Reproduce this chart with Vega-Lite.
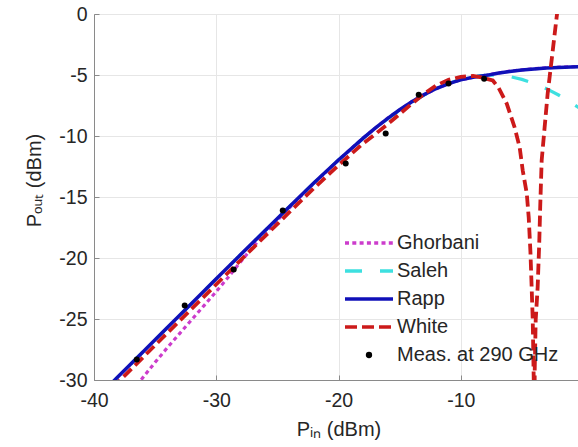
{
  "$schema": "https://vega.github.io/schema/vega-lite/v6.json",
  "autosize": {"type": "none"},
  "width": 489,
  "height": 366,
  "padding": {"left": 94, "top": 14, "right": -5, "bottom": 67},
  "background": "white",
  "config": {
    "font": "Liberation Sans",
    "view": {"stroke": "#8a8a8a", "strokeWidth": 1},
    "axis": {
      "domainColor": "#8a8a8a", "tickColor": "#8a8a8a", "gridColor": "#e6e6e6",
      "labelFont": "Liberation Sans", "labelFontSize": 19.5, "labelColor": "#262626",
      "titleFont": "Liberation Sans", "titleFontSize": 20, "titleFontWeight": "normal", "titleColor": "#262626",
      "tickSize": -5, "labelFlush": false, "labelOverlap": false
    }
  },
  "data": {"values": [
    {"s": "Ghorbani", "x": -36.5, "y": -30.45},
    {"s": "Ghorbani", "x": -36, "y": -29.8},
    {"s": "Ghorbani", "x": -35, "y": -28.55},
    {"s": "Ghorbani", "x": -34, "y": -27.35},
    {"s": "Ghorbani", "x": -33, "y": -26.2},
    {"s": "Ghorbani", "x": -32, "y": -25.05},
    {"s": "Ghorbani", "x": -31, "y": -23.9},
    {"s": "Ghorbani", "x": -30, "y": -22.75},
    {"s": "Ghorbani", "x": -29, "y": -21.55},
    {"s": "Ghorbani", "x": -28, "y": -20.3},
    {"s": "Ghorbani", "x": -27, "y": -19.1},
    {"s": "Ghorbani", "x": -26, "y": -18.0},
    {"s": "Ghorbani", "x": -25, "y": -16.9},
    {"s": "Ghorbani", "x": -24, "y": -15.88},
    {"s": "Ghorbani", "x": -23, "y": -14.85},
    {"s": "Ghorbani", "x": -22, "y": -13.87},
    {"s": "Ghorbani", "x": -20, "y": -11.97},
    {"s": "Ghorbani", "x": -18, "y": -10.18},
    {"s": "Ghorbani", "x": -16, "y": -8.55},
    {"s": "Ghorbani", "x": -14, "y": -7.17},
    {"s": "Ghorbani", "x": -12, "y": -6.1},
    {"s": "Ghorbani", "x": -10, "y": -5.38},
    {"s": "Ghorbani", "x": -8, "y": -5.02},
    {"s": "Ghorbani", "x": -6, "y": -4.68},
    {"s": "Ghorbani", "x": -4, "y": -4.48},
    {"s": "Ghorbani", "x": -2, "y": -4.36},
    {"s": "Ghorbani", "x": 0, "y": -4.29},
    {"s": "Saleh", "x": -39, "y": -30.7},
    {"s": "Saleh", "x": -36, "y": -27.7},
    {"s": "Saleh", "x": -32, "y": -23.71},
    {"s": "Saleh", "x": -28, "y": -19.72},
    {"s": "Saleh", "x": -24, "y": -15.78},
    {"s": "Saleh", "x": -22, "y": -13.84},
    {"s": "Saleh", "x": -20, "y": -11.97},
    {"s": "Saleh", "x": -18, "y": -10.2},
    {"s": "Saleh", "x": -16, "y": -8.6},
    {"s": "Saleh", "x": -15, "y": -7.9},
    {"s": "Saleh", "x": -14, "y": -7.24},
    {"s": "Saleh", "x": -13, "y": -6.64},
    {"s": "Saleh", "x": -12, "y": -6.12},
    {"s": "Saleh", "x": -11, "y": -5.69},
    {"s": "Saleh", "x": -10, "y": -5.36},
    {"s": "Saleh", "x": -9, "y": -5.13},
    {"s": "Saleh", "x": -8, "y": -5.02},
    {"s": "Saleh", "x": -7.5, "y": -5.0},
    {"s": "Saleh", "x": -7, "y": -5.02},
    {"s": "Saleh", "x": -6, "y": -5.13},
    {"s": "Saleh", "x": -5, "y": -5.36},
    {"s": "Saleh", "x": -4, "y": -5.69},
    {"s": "Saleh", "x": -3, "y": -6.12},
    {"s": "Saleh", "x": -2, "y": -6.64},
    {"s": "Saleh", "x": -1, "y": -7.24},
    {"s": "Saleh", "x": 0, "y": -7.9},
    {"s": "Rapp", "x": -39, "y": -30.7},
    {"s": "Rapp", "x": -38, "y": -29.7},
    {"s": "Rapp", "x": -36, "y": -27.7},
    {"s": "Rapp", "x": -34, "y": -25.7},
    {"s": "Rapp", "x": -32, "y": -23.71},
    {"s": "Rapp", "x": -30, "y": -21.71},
    {"s": "Rapp", "x": -28, "y": -19.72},
    {"s": "Rapp", "x": -26, "y": -17.74},
    {"s": "Rapp", "x": -24, "y": -15.78},
    {"s": "Rapp", "x": -22, "y": -13.84},
    {"s": "Rapp", "x": -20, "y": -11.97},
    {"s": "Rapp", "x": -18, "y": -10.19},
    {"s": "Rapp", "x": -17, "y": -9.35},
    {"s": "Rapp", "x": -16, "y": -8.57},
    {"s": "Rapp", "x": -15, "y": -7.85},
    {"s": "Rapp", "x": -14, "y": -7.19},
    {"s": "Rapp", "x": -13, "y": -6.61},
    {"s": "Rapp", "x": -12, "y": -6.11},
    {"s": "Rapp", "x": -11, "y": -5.71},
    {"s": "Rapp", "x": -10, "y": -5.4},
    {"s": "Rapp", "x": -9, "y": -5.18},
    {"s": "Rapp", "x": -8, "y": -5.05},
    {"s": "Rapp", "x": -7, "y": -4.86},
    {"s": "Rapp", "x": -6, "y": -4.71},
    {"s": "Rapp", "x": -5, "y": -4.59},
    {"s": "Rapp", "x": -4, "y": -4.5},
    {"s": "Rapp", "x": -3, "y": -4.43},
    {"s": "Rapp", "x": -2, "y": -4.38},
    {"s": "Rapp", "x": -1, "y": -4.34},
    {"s": "Rapp", "x": 0, "y": -4.3},
    {"s": "White", "x": -38.5, "y": -30.65},
    {"s": "White", "x": -38, "y": -30.15},
    {"s": "White", "x": -36, "y": -28.15},
    {"s": "White", "x": -32, "y": -24.15},
    {"s": "White", "x": -28, "y": -20.17},
    {"s": "White", "x": -24, "y": -16.22},
    {"s": "White", "x": -22, "y": -14.27},
    {"s": "White", "x": -20, "y": -12.4},
    {"s": "White", "x": -18, "y": -10.62},
    {"s": "White", "x": -17, "y": -9.85},
    {"s": "White", "x": -16, "y": -9.05},
    {"s": "White", "x": -15, "y": -8.2},
    {"s": "White", "x": -14, "y": -7.35},
    {"s": "White", "x": -13, "y": -6.55},
    {"s": "White", "x": -12, "y": -5.85},
    {"s": "White", "x": -11, "y": -5.4},
    {"s": "White", "x": -10, "y": -5.15},
    {"s": "White", "x": -9, "y": -5.08},
    {"s": "White", "x": -8.3, "y": -5.2},
    {"s": "White", "x": -7.38, "y": -5.45},
    {"s": "White", "x": -6.9, "y": -6.05},
    {"s": "White", "x": -6.24, "y": -7.34},
    {"s": "White", "x": -5.59, "y": -9.3},
    {"s": "White", "x": -5.18, "y": -10.94},
    {"s": "White", "x": -4.93, "y": -12.83},
    {"s": "White", "x": -4.6, "y": -14.71},
    {"s": "White", "x": -4.44, "y": -16.68},
    {"s": "White", "x": -4.3, "y": -19.5},
    {"s": "White", "x": -4.2, "y": -22.42},
    {"s": "White", "x": -4.11, "y": -25.12},
    {"s": "White", "x": -4.03, "y": -30.04},
    {"s": "White", "x": -3.99, "y": -45},
    {"s": "White", "x": -3.95, "y": -29.2},
    {"s": "White", "x": -3.87, "y": -25.1},
    {"s": "White", "x": -3.71, "y": -22.4},
    {"s": "White", "x": -3.58, "y": -18.8},
    {"s": "White", "x": -3.5, "y": -15.8},
    {"s": "White", "x": -3.38, "y": -12.0},
    {"s": "White", "x": -3.14, "y": -9.3},
    {"s": "White", "x": -2.89, "y": -6.52},
    {"s": "White", "x": -2.57, "y": -3.81},
    {"s": "White", "x": -2.16, "y": -0.29},
    {"s": "White", "x": -2.05, "y": 0.6},
    {"s": "Meas. at 290 GHz", "x": -36.5, "y": -28.32},
    {"s": "Meas. at 290 GHz", "x": -32.58, "y": -23.89},
    {"s": "Meas. at 290 GHz", "x": -28.57, "y": -20.94},
    {"s": "Meas. at 290 GHz", "x": -24.56, "y": -16.11},
    {"s": "Meas. at 290 GHz", "x": -19.41, "y": -12.25},
    {"s": "Meas. at 290 GHz", "x": -16.14, "y": -9.8},
    {"s": "Meas. at 290 GHz", "x": -13.44, "y": -6.62},
    {"s": "Meas. at 290 GHz", "x": -11.0, "y": -5.7},
    {"s": "Meas. at 290 GHz", "x": -8.09, "y": -5.31}
  ]},
  "encoding": {
    "x": {"field": "x", "type": "quantitative",
      "scale": {"domain": [-40, 0], "nice": false, "zero": false},
      "axis": {"values": [-40, -30, -20, -10, 0], "title": "Pᵢₙ (dBm)", "labelPadding": 16,
        "titleY": 55, "titleBaseline": "alphabetic",
        "labelExpr": "replace(datum.label, '−', '-')"}},
    "y": {"field": "y", "type": "quantitative",
      "scale": {"domain": [-30, 0], "nice": false, "zero": false},
      "axis": {"values": [-30, -25, -20, -15, -10, -5, 0], "title": "Pₒᵤₜ (dBm)", "labelPadding": 12,
        "titleX": -54, "titleY": 166, "titleBaseline": "alphabetic", "titleAngle": 270,
        "labelExpr": "replace(datum.label, '−', '-')"}},
    "color": {"field": "s", "type": "nominal",
      "scale": {"domain": ["Ghorbani", "Saleh", "Rapp", "White", "Meas. at 290 GHz"],
                "range": ["#cc3ccc", "#3de0e0", "#1010b8", "#cc1a1a", "#000000"]},
      "legend": {
        "orient": "none", "legendX": 265, "legendY": 219, "title": null,
        "symbolType": "stroke", "symbolSize": 2304, "symbolStrokeWidth": 3.5,
        "labelFont": "Liberation Sans", "labelFontSize": 20, "labelColor": "#262626",
        "labelOffset": 18, "rowPadding": 8, "labelLimit": 0,
        "encode": {"symbols": {"update": {
          "shape": {"signal": "datum.value == 'Meas. at 290 GHz' ? 'circle' : 'stroke'"},
          "size": {"signal": "datum.value == 'Meas. at 290 GHz' ? 40 : 2304"},
          "fill": {"signal": "datum.value == 'Meas. at 290 GHz' ? '#000000' : 'transparent'"},
          "stroke": {"signal": "datum.value == 'Ghorbani' ? '#cc3ccc' : datum.value == 'Saleh' ? '#3de0e0' : datum.value == 'Rapp' ? '#1010b8' : datum.value == 'White' ? '#cc1a1a' : '#000000'"},
          "strokeDash": {"signal": "datum.value == 'Ghorbani' ? [4, 3.3] : datum.value == 'Saleh' ? [17, 18] : datum.value == 'White' ? [12, 5] : [1000, 0]"},
          "strokeWidth": {"signal": "datum.value == 'Meas. at 290 GHz' ? 0 : 3.5"},
          "opacity": {"value": 1}
        }}}
      }
    }
  },
  "layer": [
    {"transform": [{"filter": {"field": "s", "equal": "Ghorbani"}}],
     "mark": {"type": "line", "clip": true, "strokeWidth": 3.2, "strokeDash": [4, 3.3]}},
    {"transform": [{"filter": {"field": "s", "equal": "Saleh"}}],
     "mark": {"type": "line", "clip": true, "strokeWidth": 3.2, "strokeDash": [17, 18]}},
    {"transform": [{"filter": {"field": "s", "equal": "Rapp"}}],
     "mark": {"type": "line", "clip": true, "strokeWidth": 3.5}},
    {"transform": [{"filter": {"field": "s", "equal": "White"}}],
     "mark": {"type": "line", "clip": true, "strokeWidth": 3.8, "strokeDash": [11, 5]}},
    {"transform": [{"filter": {"field": "s", "equal": "Meas. at 290 GHz"}}],
     "mark": {"type": "point", "filled": true, "size": 36, "opacity": 1}}
  ]
}
